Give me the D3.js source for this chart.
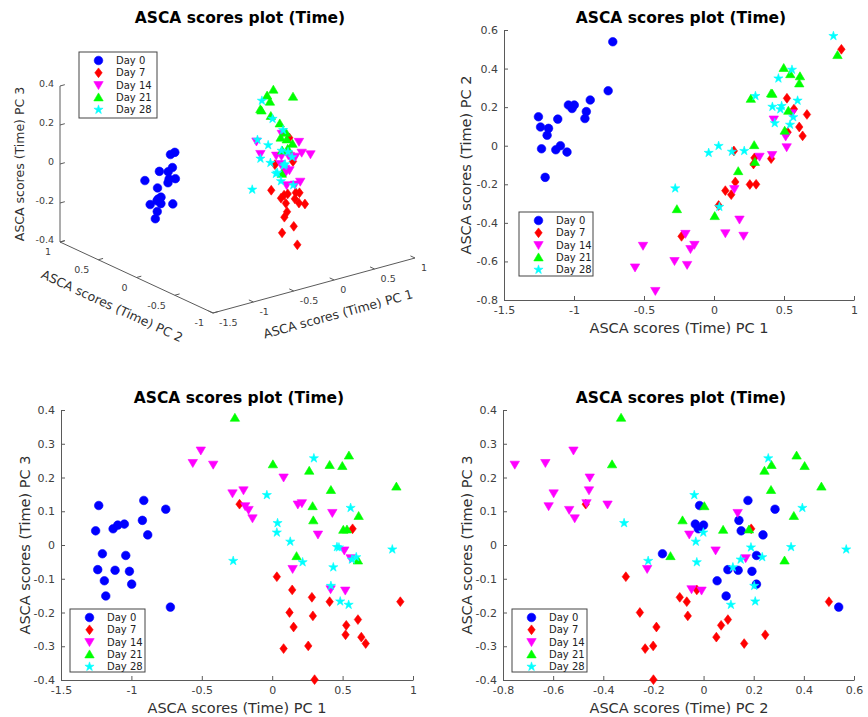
<!DOCTYPE html>
<html><head><meta charset="utf-8">
<script src="https://cdn.jsdelivr.net/npm/d3@7"></script>
<style>
body{margin:0;background:#fff}
svg{display:block}
text{font-family:"DejaVu Sans",sans-serif}
</style>
</head><body>
<svg id="chart" width="868" height="717"></svg>
<script>
// ---------- DATA: [PC1, PC2, PC3] per sample ----------
const groups = ["Day 0", "Day 7", "Day 14", "Day 21", "Day 28"];
const colors = ["#0000ff", "#ff0000", "#ff00ff", "#00ff00", "#00ffff"];
const shapes = ["circle", "diamond", "triDown", "triUp", "star"];

const day0 = [
  [-1.232,-0.016,0.117],[-0.912,0.177,0.132],[-0.756,0.285,0.106],[-1.254,0.150,0.042],
  [-1.130,-0.021,0.048],[-1.097,0.000,0.059],[-1.050,-0.033,0.062],[-0.922,0.141,0.073],
  [-0.884,0.237,0.030],[-1.206,-0.164,-0.026],[-1.040,0.211,-0.031],[-1.239,0.097,-0.073],
  [-1.116,0.138,-0.075],[-1.014,0.193,-0.078],[-1.192,0.054,-0.106],[-0.998,0.211,-0.116],
  [-1.182,0.090,-0.151],[-0.723,0.539,-0.184]
];
const day7 = [
  [-0.232,-0.470,0.121],[0.571,0.190,0.048],[0.033,-0.310,-0.094],[0.142,-0.027,-0.133],
  [0.282,-0.095,-0.155],[0.408,-0.067,-0.168],[0.910,0.500,-0.168],[0.123,-0.254,-0.200],
  [0.289,-0.063,-0.210],[0.609,0.097,-0.221],[0.152,-0.188,-0.243],[0.526,0.070,-0.238],
  [0.521,0.246,-0.266],[0.633,0.051,-0.273],[0.664,0.162,-0.292],[0.256,-0.201,-0.299],
  [0.081,-0.233,-0.307],[0.301,-0.200,-0.399]
];
const day14 = [
  [-0.507,-0.519,0.280],[-0.419,-0.753,0.238],[-0.564,-0.631,0.243],[0.081,-0.454,0.200],
  [-0.282,-0.598,0.153],[-0.204,-0.457,0.162],[-0.192,-0.618,0.115],[-0.168,-0.536,0.104],
  [-0.140,-0.514,0.079],[0.182,-0.383,0.120],[0.211,-0.467,0.124],[0.427,0.136,0.095],
  [0.325,-0.057,0.031],[0.512,0.048,-0.016],[0.557,0.168,-0.039],[0.145,-0.225,-0.071],
  [0.415,-0.048,-0.131],[0.519,-0.008,-0.135]
];
const day21 = [
  [-0.265,-0.329,0.377],[0.005,-0.365,0.239],[0.263,0.243,0.220],[0.408,0.271,0.237],
  [0.498,0.403,0.234],[0.545,0.371,0.265],[0.882,0.470,0.173],[0.417,0.269,0.163],
  [0.287,0.003,0.115],[0.614,0.360,0.086],[0.292,-0.084,0.073],[0.505,0.078,0.045],
  [0.531,0.181,0.046],[0.173,-0.132,-0.033],[0.609,0.323,-0.046]
];
const day28 = [
  [0.296,0.258,0.257],[-0.038,-0.037,0.148],[0.557,0.394,0.110],[0.038,-0.317,0.065],
  [0.033,-0.001,0.037],[0.128,-0.031,0.010],[-0.277,-0.221,-0.047],[0.216,-0.027,-0.051],
  [0.853,0.569,-0.013],[0.460,0.349,-0.006],[0.474,0.189,-0.007],[0.566,0.148,-0.043],
  [0.597,0.234,-0.036],[0.434,0.117,-0.066],[0.417,0.202,-0.121],[0.483,0.206,-0.167],
  [0.543,0.109,-0.177]
];
const seriesData = [day0, day7, day14, day21, day28];

const pc1Ticks = [-1.5, -1, -0.5, 0, 0.5, 1];
const pc2Ticks = [-0.8, -0.6, -0.4, -0.2, 0, 0.2, 0.4, 0.6];
const pc3Ticks = [-0.4, -0.3, -0.2, -0.1, 0, 0.1, 0.2, 0.3, 0.4];
const pc2Ticks3d = [-1, -0.5, 0, 0.5, 1];
const pc3Ticks3d = [-0.4, -0.2, 0, 0.2, 0.4];

const titleText = "ASCA scores plot (Time)";
const axisNames = ["ASCA scores (Time) PC 1", "ASCA scores (Time) PC 2", "ASCA scores (Time) PC 3"];

// ---------- helpers ----------
const svg = d3.select("#chart");
const AXIS_COL = "#5a5a5a", TICK_TXT = "#404040", LABEL_COL = "#303030";

function markerPath(shape) {
  switch (shape) {
    case "circle": return d3.symbol(d3.symbolCircle, Math.PI * 4.3 * 4.3)();
    case "diamond": return "M0,-4.9L3.7,0L0,4.9L-3.7,0Z";
    case "triUp": return "M0,-4.5L4.7,3.5L-4.7,3.5Z";
    case "triDown": return "M0,4.5L4.7,-3.5L-4.7,-3.5Z";
    case "star": return d3.symbol(d3.symbolStar, 26)();
  }
}

function drawMarkers(g, pts, gi) {
  g.selectAll(null).data(pts).enter().append("path")
    .attr("d", markerPath(shapes[gi]))
    .attr("transform", d => `translate(${d[0]},${d[1]})`)
    .attr("fill", colors[gi]).attr("stroke", colors[gi]).attr("stroke-width", 0.6);
}

function legend(x, y, w, h) {
  const g = svg.append("g").attr("transform", `translate(${x},${y})`);
  g.append("rect").attr("width", w).attr("height", h).attr("fill", "#fff")
    .attr("stroke", "#444").attr("stroke-width", 1);
  groups.forEach((name, i) => {
    const yy = 8.5 + i * 12.3;
    g.append("path").attr("d", markerPath(shapes[i]))
      .attr("transform", `translate(19.5,${yy})`)
      .attr("fill", colors[i]).attr("stroke", colors[i]).attr("stroke-width", 0.6);
    g.append("text").attr("x", 37).attr("y", yy).attr("dy", "0.35em")
      .attr("font-size", 10).attr("fill", "#222").text(name);
  });
}

function title(cx, y) {
  svg.append("text").attr("x", cx).attr("y", y).attr("text-anchor", "middle")
    .attr("font-size", 15.5).attr("font-weight", "bold").attr("fill", "#000").text(titleText);
}

function styleAxis(g) {
  g.select(".domain").attr("stroke", AXIS_COL).attr("stroke-width", 1);
  g.selectAll(".tick line").attr("stroke", AXIS_COL);
  g.selectAll(".tick text").attr("fill", TICK_TXT).attr("font-size", 11)
    .attr("font-family", "DejaVu Sans");
}

function panel2D(o) {
  const x = d3.scaleLinear().domain(o.xDomain).range([o.left, o.right]);
  const y = d3.scaleLinear().domain(o.yDomain).range([o.bottom, o.top]);
  const gx = svg.append("g").attr("transform", `translate(0,${o.bottom})`)
    .call(d3.axisBottom(x).tickValues(o.xTicks).tickSizeInner(-4).tickSizeOuter(0).tickPadding(6).tickFormat(d => String(d)));
  styleAxis(gx);
  const gy = svg.append("g").attr("transform", `translate(${o.left},0)`)
    .call(d3.axisLeft(y).tickValues(o.yTicks).tickSizeInner(-4).tickSizeOuter(0).tickPadding(6).tickFormat(d => String(d)));
  styleAxis(gy);
  const gm = svg.append("g");
  seriesData.forEach((arr, gi) => {
    drawMarkers(gm, arr.map(d => [x(d[o.xi]), y(d[o.yi])]), gi);
  });
  svg.append("text").attr("x", o.xlab[0]).attr("y", o.xlab[1]).attr("text-anchor", "middle")
    .attr("dy", "0.35em").attr("font-size", 14.5).attr("fill", LABEL_COL).text(axisNames[o.xi]);
  svg.append("text").attr("transform", `translate(${o.ylab[0]},${o.ylab[1]}) rotate(-90)`)
    .attr("text-anchor", "middle").attr("dy", "0.35em").attr("font-size", 14.5)
    .attr("fill", LABEL_COL).text(axisNames[o.yi]);
  title(o.titlePos[0], o.titlePos[1]);
  legend(...o.leg);
}

// ---------- top-right: PC1 vs PC2 ----------
panel2D({left: 504, right: 854, top: 30, bottom: 300,
  xDomain: [-1.5, 1], yDomain: [-0.8, 0.6], xTicks: pc1Ticks, yTicks: pc2Ticks,
  xi: 0, yi: 1, xlab: [679, 328], ylab: [466, 165], titlePos: [681, 23],
  leg: [519, 212, 74, 64]});

// ---------- bottom-left: PC1 vs PC3 ----------
panel2D({left: 61, right: 413, top: 410, bottom: 680,
  xDomain: [-1.5, 1], yDomain: [-0.4, 0.4], xTicks: pc1Ticks, yTicks: pc3Ticks,
  xi: 0, yi: 2, xlab: [237, 708], ylab: [25, 545], titlePos: [239, 403],
  leg: [70, 609, 75, 63]});

// ---------- bottom-right: PC2 vs PC3 ----------
panel2D({left: 503, right: 854, top: 410, bottom: 680,
  xDomain: [-0.8, 0.6], yDomain: [-0.4, 0.4], xTicks: pc2Ticks, yTicks: pc3Ticks,
  xi: 1, yi: 2, xlab: [679, 708], ylab: [467, 545], titlePos: [681, 403],
  leg: [512, 609, 75, 63]});

// ---------- top-left: 3D scatter ----------
(function () {
  const O = [213, 313], U1 = [202, -55], U2 = [-153, -71], U3 = [0, -156];
  const s1 = d3.scaleLinear().domain([-1.5, 1]).range([0, 1]);
  const s2 = d3.scaleLinear().domain([-1, 1]).range([0, 1]);
  const s3 = d3.scaleLinear().domain([-0.4, 0.4]).range([0, 1]);
  const proj = (a, b, c) => {
    const u = s1(a), v = s2(b), w = s3(c);
    return [O[0] + u * U1[0] + v * U2[0] + w * U3[0], O[1] + u * U1[1] + v * U2[1] + w * U3[1]];
  };
  const unit = v => { const l = Math.hypot(v[0], v[1]); return [v[0] / l, v[1] / l]; };
  const g = svg.append("g");
  const line = (p, q) => g.append("line").attr("x1", p[0]).attr("y1", p[1]).attr("x2", q[0]).attr("y2", q[1])
    .attr("stroke", AXIS_COL).attr("stroke-width", 1);
  line(proj(-1.5, -1, -0.4), proj(1, -1, -0.4));
  line(proj(-1.5, -1, -0.4), proj(-1.5, 1, -0.4));
  line(proj(-1.5, 1, -0.4), proj(-1.5, 1, 0.4));
  const TL = 5, u1 = unit(U1), u2 = unit(U2);
  const tickText = (x, y, anchor, t) => g.append("text").attr("x", x).attr("y", y)
    .attr("text-anchor", anchor).attr("dy", "0.35em").attr("font-size", 9.5).attr("fill", TICK_TXT).text(String(t));
  pc1Ticks.forEach(t => {
    const p = proj(t, -1, -0.4);
    line(p, [p[0] + u2[0] * TL, p[1] + u2[1] * TL]);
    tickText(p[0] + 6, p[1] + 10, "start", t);
  });
  pc2Ticks3d.forEach(t => {
    const p = proj(-1.5, t, -0.4);
    line(p, [p[0] + u1[0] * TL, p[1] + u1[1] * TL]);
    tickText(p[0] - 9, p[1] + 10, "end", t);
  });
  pc3Ticks3d.forEach(t => {
    const p = proj(-1.5, 1, t);
    line(p, [p[0] + u1[0] * TL, p[1] + u1[1] * TL]);
    tickText(p[0] - 6, p[1] - 2, "end", t);
  });
  const ang1 = Math.atan2(U1[1], U1[0]) * 180 / Math.PI;
  const ang2 = Math.atan2(-U2[1], -U2[0]) * 180 / Math.PI;
  g.append("text").attr("transform", `translate(338,314) rotate(${ang1})`).attr("text-anchor", "middle")
    .attr("dy", "0.35em").attr("font-size", 12.5).attr("fill", LABEL_COL).text(axisNames[0]);
  g.append("text").attr("transform", `translate(112,306) rotate(${ang2})`).attr("text-anchor", "middle")
    .attr("dy", "0.35em").attr("font-size", 12.5).attr("fill", LABEL_COL).text(axisNames[1]);
  g.append("text").attr("transform", `translate(20,164) rotate(-90)`).attr("text-anchor", "middle")
    .attr("dy", "0.35em").attr("font-size", 12.5).attr("fill", LABEL_COL).text(axisNames[2]);
  const gm = svg.append("g");
  seriesData.forEach((arr, gi) => drawMarkers(gm, arr.map(d => proj(d[0], d[1], d[2])), gi));
  title(240, 23);
  legend(79, 52, 78, 66);
})();
</script>
</body></html>
